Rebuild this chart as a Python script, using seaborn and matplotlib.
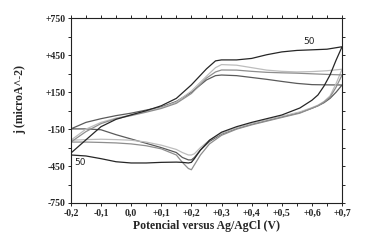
import numpy as np
import pandas as pd
import matplotlib
matplotlib.use("Agg")
import matplotlib.pyplot as plt
import seaborn as sns
from matplotlib.ticker import MultipleLocator

# Potential grid of the anodic (forward) and cathodic (reverse) sweeps, V
e_fwd = [-0.2, -0.15, -0.1, -0.05, 0.0, 0.05, 0.1, 0.15, 0.2, 0.25, 0.28, 0.3,
         0.35, 0.4, 0.45, 0.5, 0.55, 0.6, 0.65, 0.7]
e_rev = [0.7, 0.68, 0.66, 0.64, 0.62, 0.6, 0.56, 0.5, 0.45, 0.4, 0.35, 0.3,
         0.26, 0.23, 0.21, 0.2, 0.19, 0.17, 0.15, 0.1, 0.05, 0.0, -0.05, -0.1,
         -0.15, -0.2]

# Current density per cycle (microA)
j_a_fwd = [-148, -95, -65, -40, -20, 5, 30, 75, 150, 250, 285, 290,
           285, 270, 255, 238, 222, 212, 210, 209]
j_a_rev = [209, 150, 100, 65, 40, 20, -15, -50, -80, -110, -145, -190,
           -250, -320, -380, -400, -400, -380, -340, -300, -265, -230, -195, -155,
           -148, -148]

j_b_fwd = [-240, -150, -95, -60, -35, -5, 25, 70, 160, 280, 350, 375,
           370, 350, 330, 320, 315, 318, 325, 337]
j_b_rev = [337, 220, 120, 75, 45, 25, -10, -45, -75, -105, -140, -185,
           -240, -300, -350, -360, -360, -340, -315, -280, -255, -240, -235, -232,
           -235, -240]

j_c_fwd = [-255, -170, -105, -65, -40, -12, 18, 60, 140, 265, 315, 331,
           330, 320, 312, 308, 305, 300, 295, 291]
j_c_rev = [291, 190, 110, 70, 40, 20, -20, -55, -85, -115, -150, -200,
           -270, -360, -440, -480, -470, -420, -360, -310, -285, -270, -262, -258,
           -255, -255]

j_50_fwd = [-345, -237, -130, -70, -34, 0, 40, 100, 210, 340, 405, 413,
            413, 425, 455, 478, 490, 495, 500, 520]
j_50_rev = [520, 410, 290, 200, 128, 85, 22, -35, -65, -95, -130, -175,
            -240, -320, -390, -420, -425, -420, -418, -420, -425, -425, -415, -390,
            -368, -360]

cycles = ["a", "b", "c", "50"]
colors = {"a": "#5a5a5a", "b": "#bdbdbd", "c": "#8e8e8e", "50": "#262626"}

frames = []
for name, jf, jr in [("a", j_a_fwd, j_a_rev), ("b", j_b_fwd, j_b_rev),
                     ("c", j_c_fwd, j_c_rev), ("50", j_50_fwd, j_50_rev)]:
    frames.append(pd.DataFrame({"E": e_fwd + e_rev, "j": jf + jr, "cycle": name}))
df = pd.concat(frames, ignore_index=True)

sns.set_style("white")
fig = plt.figure(figsize=(3.71, 2.46), dpi=100)
ax = fig.add_axes([0.191, 0.175, 0.731, 0.75])

for name in cycles:
    sub = df[df["cycle"] == name]
    sns.lineplot(data=sub, x="E", y="j", sort=False, estimator=None,
                 color=colors[name], linewidth=0.9, ax=ax, legend=False)

ax.set_xlim(-0.2, 0.7)
ax.set_ylim(-750, 750)

xt = [-0.2, -0.1, 0.0, 0.1, 0.2, 0.3, 0.4, 0.5, 0.6, 0.7]
xl = ["-0,2", "-0,1", "0,0", "+0,1", "+0,2", "+0,3", "+0,4", "+0,5", "+0,6", "+0,7"]
yt = [-750, -450, -150, 150, 450, 750]
yl = ["-750", "-450", "-150", "+150", "+450", "+750"]
ax.set_xticks(xt)
ax.set_xticklabels(xl)
ax.set_yticks(yt)
ax.set_yticklabels(yl)
ax.xaxis.set_minor_locator(MultipleLocator(0.05))
ax.yaxis.set_minor_locator(MultipleLocator(150))

tick_font = {"family": "Liberation Serif", "weight": "bold", "size": 7}
for lab in ax.get_xticklabels() + ax.get_yticklabels():
    lab.set_fontproperties(matplotlib.font_manager.FontProperties(**tick_font))

ax.tick_params(which="both", direction="out", length=2.5, width=0.7,
               top=True, right=True, bottom=True, left=True, pad=1.5,
               labeltop=False, labelright=False)
for s in ax.spines.values():
    s.set_color("#222222")
    s.set_linewidth(0.8)

ax.set_xlabel("Potencial versus Ag/AgCl (V)", family="Liberation Serif",
              weight="bold", size=8.5, labelpad=2)
ax.set_ylabel("j (microA^-2)", family="Liberation Serif", weight="bold",
              size=8.5)
ax.yaxis.set_label_coords(-0.165, 0.56)

ax.text(0.592, 560, "50", family="DejaVu Sans", size=6.5, color="#222222",
        ha="center", va="center")
ax.text(-0.168, -420, "50", family="DejaVu Sans", size=6.5, color="#222222",
        ha="center", va="center")

fig.savefig("out.png", dpi=100)
